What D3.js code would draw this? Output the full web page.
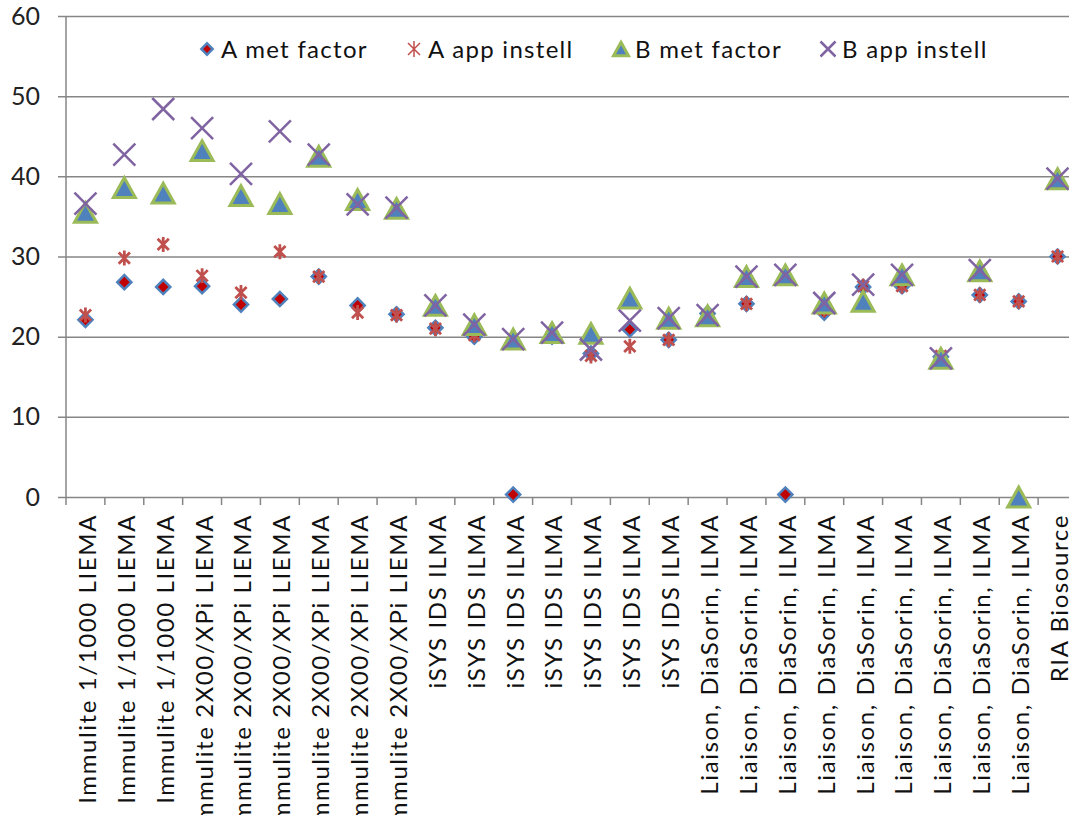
<!DOCTYPE html>
<head>
<meta charset="utf-8">
<script src="https://d3js.org/d3.v7.min.js"></script>
<style>
	body { margin: 0; background: #fff; }
	svg { display: block; font-family: Lato, "Open Sans", sans-serif; }
</style>
</head>
<body>
<svg></svg>
<script>
	var categories = [
		'Immulite 1/1000 LIEMA', 'Immulite 1/1000 LIEMA', 'Immulite 1/1000 LIEMA',
		'Immulite 2X00/XPi LIEMA', 'Immulite 2X00/XPi LIEMA', 'Immulite 2X00/XPi LIEMA',
		'Immulite 2X00/XPi LIEMA', 'Immulite 2X00/XPi LIEMA', 'Immulite 2X00/XPi LIEMA',
		'iSYS IDS ILMA', 'iSYS IDS ILMA', 'iSYS IDS ILMA', 'iSYS IDS ILMA',
		'iSYS IDS ILMA', 'iSYS IDS ILMA', 'iSYS IDS ILMA',
		'Liaison, DiaSorin, ILMA', 'Liaison, DiaSorin, ILMA', 'Liaison, DiaSorin, ILMA',
		'Liaison, DiaSorin, ILMA', 'Liaison, DiaSorin, ILMA', 'Liaison, DiaSorin, ILMA',
		'Liaison, DiaSorin, ILMA', 'Liaison, DiaSorin, ILMA', 'Liaison, DiaSorin, ILMA',
		'RIA Biosource'
	];
	var aMet = [22.1, 26.8, 26.2, 26.3, 24.0, 24.7, 27.5, 23.9, 22.8, 21.1, 20.0, 0.3, 20.0, 17.9, 20.9, 19.6, 22.9, 24.1, 0.3, 23.0, 26.2, 26.3, 17.5, 25.2, 24.4, 30.0];
	var aApp = [22.7, 29.8, 31.5, 27.6, 25.5, 30.6, 27.5, 23.0, 22.7, 21.0, 20.2, null, 20.1, 17.6, 18.8, 19.6, 22.5, 24.1, null, 23.4, 26.3, 26.3, 17.6, 25.2, 24.4, 30.0];
	var bMet = [35.5, 38.6, 37.9, 43.2, 37.6, 36.6, 42.5, 37.1, 36.0, 23.9, 21.5, 19.7, 20.5, 20.4, 24.8, 22.3, 22.6, 27.5, 27.7, 24.2, 24.4, 27.7, 17.3, 28.2, 0, 39.7];
	var bApp = [36.6, 42.7, 48.4, 46.0, 40.3, 45.6, 42.7, 36.5, 36.1, 23.9, 21.5, 19.7, 20.5, 18.4, 22.0, 22.3, 22.7, 27.5, 27.7, 24.2, 26.5, 27.7, 17.3, 28.3, null, 39.7];
	var seriesNames = ['A met factor', 'A app instell', 'B met factor', 'B app instell'];
	var yTicks = [0, 10, 20, 30, 40, 50, 60];

	var width = 1069, height = 815;
	var plotLeft = 66, plotRight = 1077, plotTop = 16, plotBottom = 497;
	var grid = '#868686';

	var svg = d3.select('svg').attr('width', width).attr('height', height);

	var x = d3.scaleBand().domain(d3.range(categories.length)).range([plotLeft, plotRight]).padding(0);
	var y = d3.scaleLinear().domain([0, 60]).range([plotBottom, plotTop]);

	// gridlines + y labels (gridlines stick out 8px left of the axis)
	var yAxis = svg.append('g')
		.attr('transform', 'translate(58,0)')
		.call(d3.axisLeft(y).tickValues(yTicks).tickSize(-(plotRight - 58)).tickPadding(18));
	yAxis.select('.domain').remove();
	yAxis.selectAll('line').attr('stroke', grid).attr('stroke-width', 1.5);
	yAxis.selectAll('text').attr('font-size', 25).attr('font-family', 'Lato').attr('fill', '#222');

	svg.append('line')
		.attr('x1', plotLeft).attr('x2', plotLeft).attr('y1', plotTop).attr('y2', plotBottom + 8)
		.attr('stroke', grid).attr('stroke-width', 1.5);

	// category ticks at band edges
	svg.append('g').selectAll('line')
		.data(d3.range(1, categories.length))
		.join('line')
		.attr('x1', function (d) { return x(d); })
		.attr('x2', function (d) { return x(d); })
		.attr('y1', plotBottom).attr('y2', plotBottom + 8)
		.attr('stroke', grid).attr('stroke-width', 1.5);

	// category labels
	var xAxis = svg.append('g')
		.attr('transform', 'translate(0,' + plotBottom + ')')
		.call(d3.axisBottom(x).tickSize(0).tickFormat(function (i) { return categories[i]; }));
	xAxis.select('.domain').remove();
	xAxis.selectAll('text')
		.attr('font-size', 24)
		.attr('font-family', 'Lato')
		.attr('fill', '#111')
		.attr('letter-spacing', 1.6)
		.attr('text-anchor', 'end')
		.attr('dy', '0.35em')
		.attr('transform', 'translate(2,17) rotate(-90)')
		.attr('x', 0).attr('y', 0);

	// marker painters
	function diamond(g, s) {
		g.append('rect')
			.attr('x', -s / 2).attr('y', -s / 2).attr('width', s).attr('height', s)
			.attr('transform', 'rotate(45)')
			.attr('fill', '#C00000').attr('stroke', '#4F81BD').attr('stroke-width', 2.5);
	}
	function star(g, s, w) {
		var r = s / 2, k = r * 0.75;
		g.append('path')
			.attr('d', 'M0,' + (-r) + 'V' + r + 'M' + (-k) + ',' + (-k) + 'L' + k + ',' + k + 'M' + (-k) + ',' + k + 'L' + k + ',' + (-k))
			.attr('stroke', '#C0504D').attr('stroke-width', w || 2.8).attr('fill', 'none');
	}
	function triangle(g, s) {
		var h = s * 0.9;
		g.append('path')
			.attr('d', 'M0,' + (-h / 2) + 'L' + (s / 2) + ',' + (h / 2) + 'L' + (-s / 2) + ',' + (h / 2) + 'Z')
			.attr('fill', '#4F81BD').attr('stroke', '#9BBB59').attr('stroke-width', 3).attr('stroke-linejoin', 'miter');
	}
	function cross(g, s) {
		var r = s / 2;
		g.append('path')
			.attr('d', 'M' + (-r) + ',' + (-r) + 'L' + r + ',' + r + 'M' + (-r) + ',' + r + 'L' + r + ',' + (-r))
			.attr('stroke', '#8064A2').attr('stroke-width', 2.5).attr('fill', 'none');
	}

	var series = [
		{name: seriesNames[0], values: aMet, draw: diamond, size: 10, legendSize: 8},
		{name: seriesNames[1], values: aApp, draw: star, size: 15, legendSize: 16, legendWidth: 1.5},
		{name: seriesNames[2], values: bMet, draw: triangle, size: 22, legendSize: 15},
		{name: seriesNames[3], values: bApp, draw: cross, size: 22, legendSize: 15}
	];

	series.forEach(function (s) {
		svg.append('g').attr('class', 'series')
			.selectAll('g')
			.data(s.values.map(function (v, i) { return {i: i, v: v}; }).filter(function (d) { return d.v != null; }))
			.join('g')
			.attr('transform', function (d) { return 'translate(' + (x(d.i) + x.bandwidth() / 2) + ',' + y(d.v) + ')'; })
			.each(function () { s.draw(d3.select(this), s.size); });
	});

	// legend
	var legend = svg.append('g').attr('transform', 'translate(207,49)');
	var item = legend.selectAll('g').data(series).join('g')
		.attr('transform', function (d, i) { return 'translate(' + (i * 207) + ',0)'; });
	item.each(function (d) { d.draw(d3.select(this), d.legendSize, d.legendWidth); });
	item.append('text')
		.attr('x', 14).attr('dy', '0.36em')
		.attr('font-size', 24).attr('font-family', 'Lato').attr('fill', '#111')
		.attr('letter-spacing', 1.3)
		.text(function (d) { return d.name; });
</script>
</body>
